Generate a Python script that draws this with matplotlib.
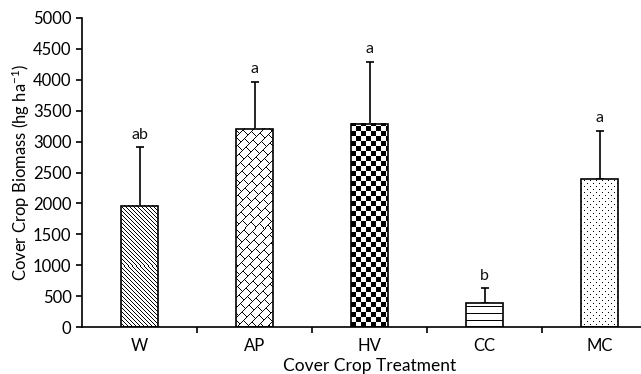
import numpy as np
import matplotlib
matplotlib.use("Agg")
import matplotlib.pyplot as plt

plt.rcParams['font.family'] = ['Lato', 'DejaVu Sans']
plt.rcParams['mathtext.default'] = 'regular'

treatments = ["W", "AP", "HV", "CC", "MC"]
biomass = [1960, 3210, 3290, 385, 2390]
err_up = [950, 760, 1000, 240, 785]
letters = ["ab", "a", "a", "b", "a"]
textures = ["diag", "brick", "checker", "hlines", "dots"]


def texture(kind, h, w):
    # pixel pattern, row 0 = top of the bar
    yy, xx = np.mgrid[0:h, 0:w]
    yy = yy - h  # anchor the pattern at the bar base
    if kind == "diag":
        ink = ((xx - yy) % 4) == 0
    elif kind == "brick":
        u = (xx + yy)
        v = (xx - yy)
        row = (u // 10)
        ink = ((u % 10) == 0) | ((((v + (row % 2) * 7) % 14) == 0))
    elif kind == "checker":
        ink = ((xx // 5 + yy // 5) % 2) == 1
    elif kind == "hlines":
        ink = (yy % 7) == 0
    else:
        ink = ((xx % 3) == 0) & ((yy % 3) == 0) & (((xx // 3 + yy // 3) % 2) == 0)
    img = np.ones((h, w, 3))
    img[ink] = 0.0
    return img


# the original axis runs past the right edge of the picture, so stop the
# axes at the edge and cut the x range to match (115 px per category)
fig = plt.figure(figsize=(6.41, 3.74), dpi=100)
ax = fig.add_axes([82 / 641, 47 / 374, 559 / 641, 309 / 374])
xmax = -0.5 + 559 / 115
ax.set_xlim(-0.5, xmax)
ax.set_ylim(0, 5000)

x = np.arange(len(treatments))
width = 0.32
bars = ax.bar(x, biomass, width=width, color="none", edgecolor="black",
              linewidth=1.2, zorder=3)
ax.errorbar(x, biomass, yerr=[np.zeros(len(x)), err_up], fmt="none",
            ecolor="black", elinewidth=1.2, capsize=3, capthick=1.2, zorder=2)

# fill each bar with its texture, sized in pixels
fig.canvas.draw()
for xi, v, kind in zip(x, biomass, textures):
    (x0, y0), (x1, y1) = ax.transData.transform([(xi - width / 2, 0), (xi + width / 2, v)])
    wpx = max(int(round(x1 - x0)), 1)
    hpx = max(int(round(y1 - y0)), 1)
    ax.imshow(texture(kind, hpx, wpx), extent=(xi - width / 2, xi + width / 2, 0, v),
              aspect="auto", interpolation="nearest", zorder=2.5)
ax.set_xlim(-0.5, xmax)
ax.set_ylim(0, 5000)

for xi, v, e, lab in zip(x, biomass, err_up, letters):
    ax.text(xi, v + e + 90, lab, ha="center", va="bottom", fontsize=11.5,
            color="#111111")

ax.spines["top"].set_visible(False)
ax.spines["right"].set_visible(False)
ax.spines["left"].set_bounds(0, 5000)
ax.set_yticks(np.arange(0, 5001, 500))
ax.set_xticks(x)
ax.set_xticklabels(treatments)
ax.set_xticks(np.arange(0.5, 4.5, 1), minor=True)
ax.tick_params(axis="x", which="major", length=0, pad=8, labelsize=12)
ax.tick_params(axis="x", which="minor", length=4, width=1.2, direction="out")
ax.tick_params(axis="y", length=4, width=1.2, labelsize=12)
for s in ["left", "bottom"]:
    ax.spines[s].set_linewidth(1.2)

ax.set_xlabel("Cover Crop Treatment", fontsize=12.5, labelpad=1)
# centre of the full (uncut) axis, 575 px wide
ax.xaxis.set_label_coords(575 / 2 / 559, -0.1)
ax.set_ylabel("Cover Crop Biomass (hg ha$^{-1}$)", fontsize=12, labelpad=1)

fig.savefig("out.png", dpi=100)
